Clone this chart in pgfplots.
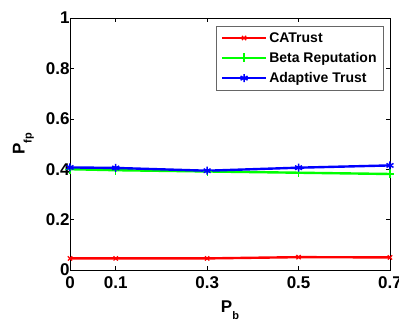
\documentclass[border=0pt]{standalone}
\usepackage{pgfplots}
\pgfplotsset{compat=1.18}
\usepackage{fontspec}
\setmainfont{Liberation Sans}
\usetikzlibrary{calc}
\begin{document}
\begin{tikzpicture}
\begin{axis}[
  name=ax,
  scale only axis,
  width=320pt, height=252pt,
  xmin=0, xmax=0.7, ymin=0, ymax=1,
  xtick={0,0.1,0.3,0.5,0.7},
  ytick={0,0.2,0.4,0.6,0.8,1},
  yticklabels={0,0.2,0.4,0.6,0.8,1},
  xticklabels={0,0.1,0.3,0.5,0.7},
  tick align=inside,
  major tick length=4pt,
  axis line style={line width=0.8pt},
  tick style={black, line width=0.6pt},
  /pgf/number format/assume math mode=true,
  font=\fontsize{17}{19}\selectfont\bfseries,
  tick label style={font=\fontsize{17}{19}\selectfont\bfseries},
  xticklabel style={yshift=-3pt},
  yticklabel style={xshift=3pt},
  xlabel={P\raisebox{-7pt}{\fontsize{11}{13}\selectfont b}},
  ylabel={P\raisebox{-7pt}{\fontsize{11}{13}\selectfont fp}},
  label style={font=\fontsize{17}{19}\selectfont\bfseries},
  xlabel style={yshift=-5pt},
  ylabel style={yshift=5pt},
  legend style={at={(0.981,0.968)}, anchor=north east, draw=black!60, line width=0.6pt,
    font=\fontsize{14}{16}\selectfont\bfseries, row sep=4.5pt, inner xsep=5pt, inner ysep=4pt},
  legend cell align=left,
  legend image code/.code={\draw[mark repeat=2,mark phase=2] plot coordinates {(0pt,0pt) (22pt,0pt) (44pt,0pt)};},
]
\addplot[red, line width=2.4pt, mark=x, mark size=3pt, mark options={line width=1.2pt}] coordinates {
(0,0.046) (0.1,0.046) (0.3,0.046) (0.5,0.051) (0.7,0.050)};
\addlegendentry{CATrust}
\addplot[green, line width=2.4pt, mark=+, mark size=4.5pt, mark options={line width=1.2pt}] coordinates {
(0,0.400) (0.1,0.396) (0.3,0.391) (0.5,0.386) (0.7,0.381)};
\addlegendentry{Beta Reputation}
\addplot[blue, line width=2.4pt, mark=asterisk, mark size=4pt, mark options={line width=1.5pt}] coordinates {
(0,0.407) (0.1,0.405) (0.3,0.394) (0.5,0.406) (0.7,0.415)};
\addlegendentry{Adaptive Trust}
\end{axis}
\pgfresetboundingbox
\path ($(ax.south west)+(-70pt,-57pt)$) rectangle ($(ax.north east)+(9pt,18pt)$);
\end{tikzpicture}
\end{document}
